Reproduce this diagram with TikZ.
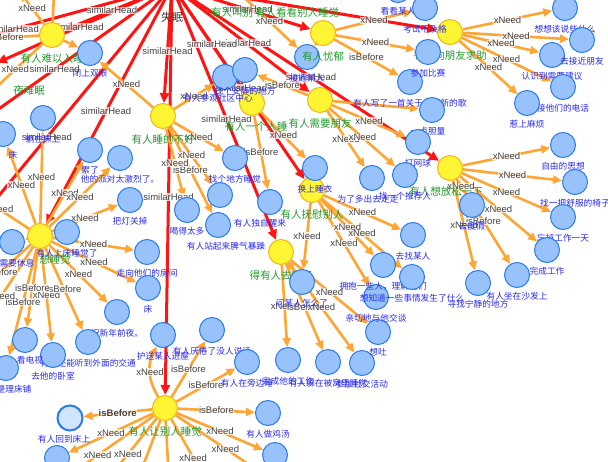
\documentclass[tikz,border=0pt]{standalone}
\usepackage{fontspec}
\newfontfamily\cjk{Noto Sans CJK SC}
\newfontfamily\lat{Liberation Sans}
\usetikzlibrary{arrows.meta}
\definecolor{oe}{HTML}{FFA533}
\definecolor{rd}{HTML}{FF1414}
\definecolor{yf}{HTML}{FFF533}
\definecolor{yb}{HTML}{F5B41E}
\definecolor{bf}{HTML}{97C2FC}
\definecolor{bb}{HTML}{2B7CE9}
\definecolor{gt}{HTML}{22992B}
\definecolor{bt}{HTML}{2A2AF5}
\definecolor{et}{HTML}{444444}
\definecolor{sf}{HTML}{D2E5FF}
\pgfdeclarelayer{bk}\pgfdeclarelayer{bg}\pgfdeclarelayer{mid}
\pgfsetlayers{bk,bg,mid,main}
\tikzset{
 yn/.style={circle,fill=yf,draw=yb,line width=1pt,minimum size=25pt,inner sep=0pt},
 bn/.style={circle,fill=bf,draw=bb,line width=1pt,minimum size=25pt,inner sep=0pt},
 sn/.style={circle,fill=sf,draw=bb,line width=2pt,minimum size=25pt,inner sep=0pt},
 gl/.style={text=gt,font=\cjk\fontsize{10.5}{12}\selectfont,inner sep=0pt},
 bl/.style={text=bt,font=\cjk\fontsize{8.7}{10}\selectfont,inner sep=0pt},
 kl/.style={text=black!80,font=\cjk\fontsize{11}{13}\selectfont,inner sep=0pt},
 elab/.style={text=et,font=\lat\fontsize{9.5}{11}\selectfont,fill=white,fill opacity=0.75,text opacity=1,inner sep=0.4pt},
 oedge/.style={draw=oe,line width=2.6pt,-{Triangle[length=9pt,width=8pt]}},
 redge/.style={draw=rd,line width=3pt,-{Triangle[length=10pt,width=9pt]}},
}
\newcommand\gedge[4]{%
 \begin{pgfonlayer}{bg}\draw[#1] (#2) -- (#3);\end{pgfonlayer}%
 \begin{pgfonlayer}{mid}\path (#2) -- (#3) node[elab,midway]{#4};\end{pgfonlayer}}
\newcommand\gline[3]{%
 \begin{pgfonlayer}{bg}\draw[#1] (#2) -- (#3);\end{pgfonlayer}}
\begin{document}
\begin{tikzpicture}[x=1pt,y=-1pt,label distance=3.5pt]
\useasboundingbox (0,0) rectangle (608,461);
\begin{pgfonlayer}{bk}\fill[white] (0,0) rectangle (608,461);\end{pgfonlayer}
% blue node drawn below the yellow labels
\node[bn,label={[bl]below:接近某人}] (b36) at (307,57) {};
% ---------- yellow nodes
\node[yn] (shimian) at (172,-14) {};
\node[kl] (shimianl) at (172,17) {失眠};
\node[yn] (yt1) at (232,-14) {};
\node[gl] (yt1l) at (232,13) {有人叫别};
\node[yn] (yt2) at (297,-14) {};
\node[gl] (yt2l) at (297,13) {有人看看别人睡觉};
\node[yn] (yleft) at (-15,68) {};
\node[gl,anchor=east] (yleftl) at (45,90) {夜难眠};
\node[yn,label={[gl,yshift=-2pt]below:有人难以入睡}] (Y1) at (52,35) {};
\node[yn,label={[gl,yshift=-2pt]below:有人睡的不好}] (Y2) at (163,116) {};
\node[yn,label={[gl,yshift=-2pt]below:有人忧郁}] (Y3) at (323,33) {};
\node[yn,label={[gl,yshift=-2pt]below:有人需要朋友}] (Y4) at (320,100) {};
\node[yn,label={[gl,yshift=-2pt,xshift=4pt]below:有人一个人睡}] (Y5) at (252,103) {};
\node[yn,label={[gl,yshift=-2pt]below:有人向朋友求助}] (Y6) at (450,32) {};
\node[yn,label={[gl,yshift=-2pt,xshift=-4pt]below:有人想放松一下}] (Y7) at (450,168) {};
\node[yn,label={[gl,yshift=-3pt]below:有人抚慰别人}] (Y8) at (312,190) {};
\node[yn,label={[gl,yshift=-2pt]below:得有人去睡了}] (Y9) at (281,252) {};
\node[yn,label={[gl,yshift=-2pt,xshift=15pt]below:想睡觉}] (Y10) at (40,236) {};
\node[yn,label={[gl,yshift=-2pt]below:有人让别人睡觉}] (Y11) at (165,408) {};
% ---------- blue nodes
\node[bn,label={[bl]below:闭上双眼}] (b1) at (90,53) {};
\node[bn,label={[bl]below:躺在床上}] (b2) at (43,118) {};
\node[bn,label={[bl,xshift=10pt]below:床}] (b3) at (3,134) {};
\node[bn,label={[bl]below:累了}] (b4) at (90,150) {};
\node[bn,label={[bl]below:他的派对太激烈了。}] (b5) at (120,158) {};
\node[bn,label={[bl]below:把灯关掉}] (b6) at (130,200) {};
\node[bn,label={[bl]below:有人上床睡觉了}] (b7) at (67,232) {};
\node[bn,label={[bl,xshift=5pt]below:需要休息}] (b8) at (12,242) {};
\node[bn,label={[bl]below:走向他们的房间}] (b9) at (147,252) {};
\node[bn,label={[bl]below:床}] (b10) at (148,288) {};
\node[bn,label={[bl]below:祝新年前夜。}] (b11) at (117,312) {};
\node[bn,label={[bl]below:护送某人进屋}] (b12) at (163,335) {};
\node[bn,label={[bl]below:有人还能听到外面的交通}] (b13) at (88,342) {};
\node[bn,label={[bl]below:去他的卧室}] (b14) at (53,355) {};
\node[bn,label={[bl,xshift=5pt]below:看电视}] (b15) at (25,340) {};
\node[bn,label={[bl,xshift=8pt]below:整理床铺}] (b16) at (6,368) {};
\node[sn,label={[bl,xshift=-6pt]below:有人回到床上}] (b17) at (70,418) {};
\node[bn] (b18) at (57,458) {};
\node[bn,label={[bl]below:有人厌倦了没人说话}] (b19) at (212,330) {};
\node[bn,label={[bl]below:有人在旁边睡}] (b20) at (247,362) {};
\node[bn,label={[bl]below:完成他的工作}] (b21) at (288,360) {};
\node[bn,label={[bl]below:有人躲在被窝里睡觉}] (b22) at (328,362) {};
\node[bn,label={[bl]below:参加社交活动}] (b23) at (362,363) {};
\node[bn,label={[bl]below:想吐}] (b24) at (378,332) {};
\node[bn,label={[bl]below:亲切地与他交谈}] (b25) at (376,297) {};
\node[bn,label={[bl]below:有人做鸡汤}] (b26) at (268,413) {};
\node[bn] (b27) at (275,455) {};
\node[bn,label={[bl]below:问某人怎么了}] (b28) at (302,282) {};
\node[bn,label={[bl,xshift=-10pt]below:有人独自醒来}] (b29) at (270,202) {};
\node[bn] (b33) at (220,195) {};
\node[bn,label={[bl,xshift=8pt]below:有人站起来脾气暴躁}] (b30) at (218,225) {};
\node[bn,label={[bl]below:找个地方睡觉}] (b31) at (235,158) {};
\node[bn,label={[bl]below:喝得太多}] (b32) at (187,210) {};
\node[bn,label={[bl,xshift=-7pt]below:有人参观社区中心}] (b34) at (225,77) {};
\node[bn,label={[bl]below:找个安静的地方}] (b35) at (245,70) {};
\node[bn,label={[bl]below:换上睡衣}] (b37) at (315,168) {};
\node[bn,label={[bl]below:有人写了一首关于他们新的歌}] (b38) at (410,82) {};
\node[bn,label={[bl,xshift=-4pt]below:一点胆量}] (b39) at (432,110) {};
\node[bn,label={[bl]below:打网球}] (b40) at (418,142) {};
\node[bn,label={[bl,xshift=-4pt]below:为了多出去走走}] (b41) at (372,178) {};
\node[bn,label={[bl]below:找一个推荐人}] (b42) at (405,175) {};
\node[bn,label={[bl]below:去找某人}] (b43) at (413,235) {};
\node[bn,label={[bl]below:拥抱一些人，理解他们}] (b44) at (383,265) {};
\node[bn,label={[bl]below:想知道一些事情发生了什么}] (b45) at (412,277) {};
\node[bn,label={[bl]below:看看某人}] (b47) at (398,-10) {};
\node[bn,label={[bl]below:考试不及格}] (b48) at (425,8) {};
\node[bn,label={[bl]below:想想该说些什么}] (b49) at (565,8) {};
\node[bn,label={[bl]below:参加比赛}] (b64) at (428,52) {};
\node[bn,label={[bl]below:认识到需要建议}] (b51) at (552,55) {};
\node[bn,label={[bl]below:去接近朋友}] (b50) at (582,40) {};
\node[bn,label={[bl]below:接他们的电话}] (b52) at (563,87) {};
\node[bn,label={[bl]below:惹上麻烦}] (b53) at (527,103) {};
\node[bn,label={[bl]below:自由的思想}] (b54) at (563,145) {};
\node[bn,label={[bl]below:找一把舒服的椅子}] (b55) at (575,182) {};
\node[bn,label={[bl]below:忘掉工作一天}] (b56) at (563,217) {};
\node[bn,label={[bl]below:完成工作}] (b57) at (547,250) {};
\node[bn,label={[bl]below:有人坐在沙发上}] (b58) at (517,275) {};
\node[bn,label={[bl]below:寻找宁静的地方}] (b59) at (478,283) {};
\node[bn,label={[bl]below:去度假}] (b60) at (472,205) {};
% ---------- off-canvas ends
\coordinate (offa) at (-132,69);
\coordinate (offb) at (-52,145);
\coordinate (offc) at (-70,279);
\coordinate (o1) at (20,-8);
\coordinate (o2) at (-26,39);
\coordinate (o3) at (-12,95);
\coordinate (o4) at (55,-25);
\coordinate (o5) at (-30,190);
\coordinate (o6) at (-30,300);
\coordinate (o7) at (-30,345);
\coordinate (o8) at (41,495);
\coordinate (o9) at (99,490);
\coordinate (o10) at (215,496);
\coordinate (o11) at (275,482);
\coordinate (o12) at (130,500);
\coordinate (o13) at (170,500);
% ---------- red edges
\gedge{redge}{shimian}{Y1}{similarHead}
\gedge{redge}{shimian}{Y2}{similarHead}
\gedge{redge}{shimian}{Y3}{similarHead}
\gedge{redge}{shimian}{Y4}{similarHead}
\gedge{redge}{shimian}{Y5}{similarHead}
\gline{redge}{shimian}{Y6}
\gedge{redge}{shimian}{Y7}{similarHead}
\gedge{redge}{shimian}{Y8}{similarHead}
\gedge{redge}{shimian}{Y9}{similarHead}
\gedge{redge}{shimian}{Y10}{similarHead}
\gedge{redge}{shimian}{Y11}{similarHead}
\gedge{redge}{shimian}{yleft}{similarHead}
\gedge{redge}{shimian}{offa}{similarHead}
\gedge{redge}{shimian}{offb}{similarHead}
\gedge{redge}{shimian}{offc}{similarHead}
% ---------- orange edges
\gline{oedge}{Y1}{b1}
\gedge{oedge}{Y1}{o1}{xNeed}
\gedge{oedge}{Y1}{o2}{isBefore}
\gedge{oedge}{Y1}{o3}{xNeed}
\gline{oedge}{Y1}{o4}
\gedge{oedge}{Y2}{b1}{xNeed}
\gedge{oedge}{Y2}{b34}{xNeed}
\gedge{oedge}{Y2}{b31}{xNeed}
\gedge{oedge}{Y2}{b33}{xNeed}
\gedge{oedge}{Y2}{b30}{isBefore}
\gedge{oedge}{Y2}{b32}{xNeed}
\gline{oedge}{Y3}{b36}
\gedge{oedge}{Y3}{b48}{xNeed}
\gedge{oedge}{Y3}{b64}{xNeed}
\gedge{oedge}{Y3}{b38}{isBefore}
\gedge{oedge}{yt1}{b36}{xNeed}
\gedge{oedge}{Y4}{b35}{isBefore}
\gline{oedge}{Y4}{b39}
\gedge{oedge}{Y4}{b40}{xNeed}
\gedge{oedge}{Y4}{b41}{xNeed}
\gedge{oedge}{Y4}{b42}{xNeed}
\gedge{oedge}{Y5}{b29}{isBefore}
\gedge{oedge}{Y5}{b37}{xNeed}
\gedge{oedge}{Y6}{b49}{xNeed}
\gedge{oedge}{Y6}{b50}{xNeed}
\gedge{oedge}{Y6}{b51}{xNeed}
\gedge{oedge}{Y6}{b52}{xNeed}
\gedge{oedge}{Y6}{b53}{xNeed}
\gedge{oedge}{Y7}{b54}{xNeed}
\gedge{oedge}{Y7}{b55}{xNeed}
\gedge{oedge}{Y7}{b56}{xNeed}
\gedge{oedge}{Y7}{b57}{xNeed}
\gedge{oedge}{Y7}{b58}{isBefore}
\gedge{oedge}{Y7}{b59}{xNeed}
\gedge{oedge}{Y7}{b60}{xNeed}
\gline{oedge}{Y8}{b37}
\gedge{oedge}{Y8}{b43}{xNeed}
\gedge{oedge}{Y8}{b44}{xNeed}
\gedge{oedge}{Y8}{b45}{xNeed}
\gedge{oedge}{Y8}{b25}{xNeed}
\gedge{oedge}{Y8}{b28}{xNeed}
\gline{oedge}{Y9}{b28}
\gedge{oedge}{Y9}{b21}{xNeed}
\gedge{oedge}{Y9}{b22}{isBefore}
\gedge{oedge}{Y9}{b23}{xNeed}
\gedge{oedge}{Y9}{b24}{xNeed}
\gedge{oedge}{Y10}{b2}{xNeed}
\gedge{oedge}{Y10}{b3}{xNeed}
\gedge{oedge}{Y10}{b4}{xNeed}
\gedge{oedge}{Y10}{b5}{xNeed}
\gedge{oedge}{Y10}{b6}{xNeed}
\gedge{oedge}{Y10}{b9}{xNeed}
\gedge{oedge}{Y10}{b10}{xNeed}
\gedge{oedge}{Y10}{b11}{xNeed}
\gedge{oedge}{Y10}{b14}{xNeed}
\gedge{oedge}{Y10}{b13}{isBefore}
\gedge{oedge}{Y10}{b15}{isBefore}
\gedge{oedge}{Y10}{b16}{isBefore}
\gline{oedge}{Y10}{b7}
\gline{oedge}{Y10}{b8}
\gedge{oedge}{Y10}{o5}{xNeed}
\gedge{oedge}{Y10}{o6}{isBefore}
\gedge{oedge}{Y10}{o7}{xNeed}
\begin{pgfonlayer}{bg}\draw[oedge] (Y11) to[bend left=30] (b12);\end{pgfonlayer}
\begin{pgfonlayer}{mid}\node[elab] (lb12) at (150,372) {xNeed};\end{pgfonlayer}
\begin{pgfonlayer}{bg}\draw[oedge] (Y11) -- (b17);\end{pgfonlayer}
\begin{pgfonlayer}{mid}\path (Y11) -- (b17) node[elab,midway,font=\lat\bfseries\fontsize{9.5}{11}\selectfont]{isBefore};\end{pgfonlayer}
\gedge{oedge}{Y11}{b19}{isBefore}
\gedge{oedge}{Y11}{b20}{isBefore}
\gedge{oedge}{Y11}{b26}{isBefore}
\gedge{oedge}{Y11}{b27}{xNeed}
\gedge{oedge}{Y11}{b18}{xNeed}
\gedge{oedge}{Y11}{o8}{xNeed}
\gedge{oedge}{Y11}{o9}{xNeed}
\gedge{oedge}{Y11}{o10}{xNeed}
\gedge{oedge}{Y11}{o11}{xNeed}
\gline{oedge}{Y11}{o12}
\gline{oedge}{Y11}{o13}
\end{tikzpicture}
\end{document}
